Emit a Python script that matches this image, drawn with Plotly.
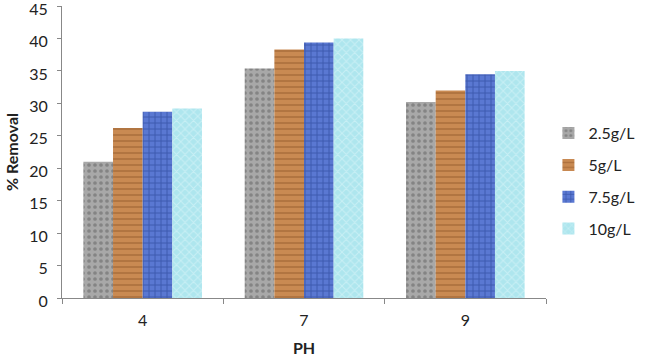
import plotly.graph_objects as go

categories = ["4", "7", "9"]
series_names = ["2.5g/L", "5g/L", "7.5g/L", "10g/L"]
values_25 = [21.0, 35.4, 30.2]
values_5 = [26.2, 38.3, 32.0]
values_75 = [28.7, 39.4, 34.5]
values_10 = [29.2, 40.0, 35.0]
y_ticks = [0, 5, 10, 15, 20, 25, 30, 35, 40, 45]

all_values = [values_25, values_5, values_75, values_10]
colors = ["#a8a8a8", "#c98a52", "#5a78d2", "#aee6ee"]
pat_fg = ["#606060", "#955a2c", "#1f3a8a", "#e2f8fb"]
shapes = [".", "-", "+", "x"]

fig = go.Figure()
for i, (name, vals) in enumerate(zip(series_names, all_values)):
    fig.add_trace(go.Bar(
        x=categories, y=vals, name=name,
        legendgroup=name,
        marker=dict(color=colors[i], line=dict(width=0),
                    pattern=dict(shape=shapes[i], fgcolor=pat_fg[i],
                                 bgcolor=colors[i], size=6, solidity=0.3,
                                 fillmode="overlay")),
    ))

fig.update_layout(
    width=646, height=358,
    margin=dict(l=62, r=94, t=6, b=60),
    paper_bgcolor="white", plot_bgcolor="white",
    barmode="group", bargap=0.265, bargroupgap=0,
    font=dict(family="Lato, Open Sans, sans-serif", size=16, color="#222"),
    legend=dict(x=1.005, y=0.40, xanchor="left", yanchor="middle",
                font=dict(size=16), tracegroupgap=8, traceorder="grouped",
                itemwidth=30),
    xaxis=dict(title=dict(text="<b>PH</b>", font=dict(size=16), standoff=14),
               showline=True, linecolor="#888", linewidth=1, automargin=False,
               ticks="outside", tickson="boundaries", ticklen=5, tickcolor="#888",
               ticklabelstandoff=8, tickfont=dict(size=16)),
    yaxis=dict(title=dict(text="<b>% Removal</b>", font=dict(size=16), standoff=6),
               range=[0, 45.02], tickvals=y_ticks, showgrid=False, zeroline=False,
               showline=True, linecolor="#888", linewidth=1, automargin=False,
               ticks="outside", ticklen=4, tickcolor="#888",
               ticklabeloverflow="allow",
               ticklabelstandoff=6, ticklabelshift=3, tickfont=dict(size=16)),
)

fig.write_html("out.html", config={"displayModeBar": False},
               post_script="document.body.style.margin='0';")
